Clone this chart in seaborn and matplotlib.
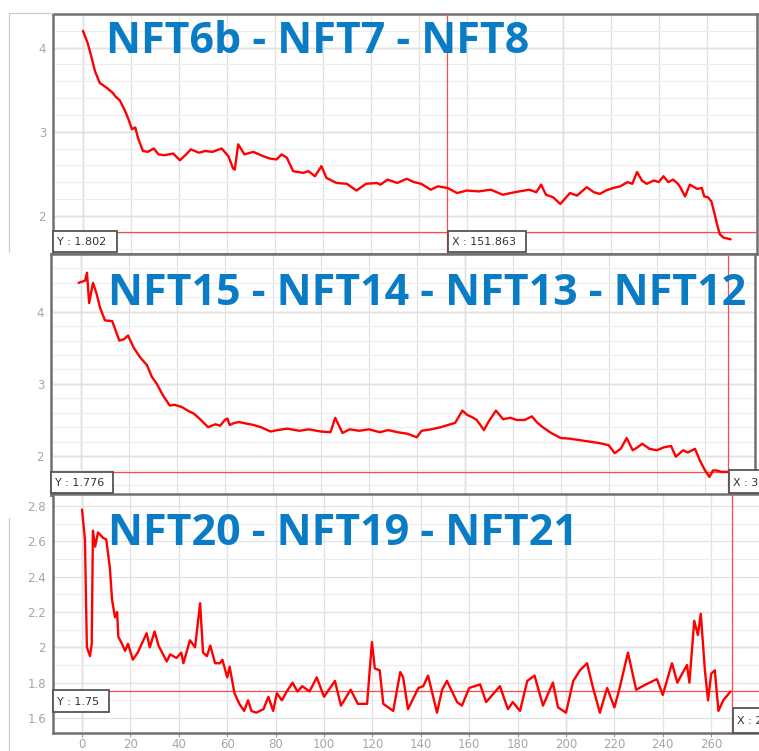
import numpy as np
import pandas as pd
import matplotlib.pyplot as plt
import seaborn as sns
from matplotlib.patches import Rectangle
from matplotlib.lines import Line2D

# panel 1 : NFT6b - NFT7 - NFT8
x1 = [0, 2, 3.7, 5, 7, 10, 12.5, 13.5, 15.4, 17.5, 18.8, 20.4, 21.8, 23, 25, 27, 29.5, 31.5, 34, 37.6,
      40.4, 43, 45, 48.3, 51, 54, 57.8, 60.6, 62.6, 63.3, 64.7, 67.3, 71, 75, 78, 80.7, 82.8, 85, 87.6, 91.8,
      94, 96.7, 99.4, 101.5, 105.7, 110, 114, 118, 122.5, 124, 127, 131, 135, 138, 141, 145, 148, 152, 156, 160,
      165, 170, 175, 180, 186, 189, 191, 193, 196, 199, 203, 206, 210, 213, 215.5, 218, 221, 224, 227, 229,
      231, 233, 235, 238, 240, 242, 244, 246, 248, 249, 251, 253, 256, 258, 259, 260.5, 262, 263.5, 264.5, 265.5,
      267, 270]
y1 = [4.20, 4.05, 3.87, 3.72, 3.58, 3.52, 3.46, 3.42, 3.37, 3.25, 3.16, 3.03, 3.05, 2.92, 2.77, 2.76, 2.80, 2.73, 2.72, 2.74,
      2.66, 2.73, 2.79, 2.75, 2.77, 2.76, 2.80, 2.71, 2.56, 2.55, 2.85, 2.73, 2.76, 2.71, 2.68, 2.67, 2.73, 2.69, 2.53, 2.51,
      2.53, 2.47, 2.59, 2.45, 2.39, 2.38, 2.30, 2.38, 2.39, 2.37, 2.43, 2.39, 2.44, 2.40, 2.38, 2.31, 2.35, 2.33, 2.27, 2.30,
      2.29, 2.31, 2.25, 2.28, 2.31, 2.28, 2.37, 2.25, 2.22, 2.14, 2.27, 2.24, 2.34, 2.28, 2.26, 2.30, 2.33, 2.35, 2.40, 2.38,
      2.52, 2.42, 2.38, 2.42, 2.40, 2.47, 2.40, 2.43, 2.38, 2.34, 2.23, 2.37, 2.32, 2.33, 2.23, 2.22, 2.17, 2.00, 1.88, 1.78,
      1.74, 1.72]

# panel 2 : NFT15 - NFT14 - NFT13 - NFT12
x2 = [-1, 1.7, 2.5, 3.4, 5, 6.5, 8, 10, 13, 16, 18, 19.6, 22, 24.6, 27.5, 29.5, 31.6, 34, 37, 39,
      42, 45, 47, 50, 53, 56, 58, 60, 61, 62, 64, 66, 69, 72, 75, 79, 82, 86, 91, 95,
      100, 104, 106, 109, 112, 116, 120, 124.6, 128, 132, 136, 140, 142, 146, 150, 153, 156, 159, 161, 163,
      165, 168, 170, 173, 176, 179, 181.7, 185, 188, 190, 192.5, 196, 200, 204, 208, 212, 216, 220, 222.5, 225,
      227.5, 230, 232, 234, 237, 240, 243, 246, 248, 251, 253, 256, 258, 260, 262, 263.5, 265, 267, 269.6]
y2 = [4.40, 4.43, 4.54, 4.12, 4.40, 4.25, 4.05, 3.88, 3.87, 3.60, 3.62, 3.67, 3.50, 3.37, 3.26, 3.10, 3.00, 2.85, 2.70, 2.71,
      2.68, 2.62, 2.59, 2.50, 2.40, 2.44, 2.42, 2.50, 2.52, 2.43, 2.46, 2.47, 2.45, 2.43, 2.40, 2.34, 2.36, 2.38, 2.35, 2.37,
      2.34, 2.33, 2.53, 2.32, 2.37, 2.35, 2.37, 2.33, 2.36, 2.33, 2.31, 2.26, 2.35, 2.37, 2.40, 2.43, 2.46, 2.63, 2.57, 2.54,
      2.50, 2.36, 2.48, 2.63, 2.51, 2.53, 2.50, 2.50, 2.55, 2.47, 2.40, 2.32, 2.25, 2.24, 2.22, 2.20, 2.18, 2.15, 2.04, 2.10,
      2.25, 2.08, 2.12, 2.17, 2.10, 2.08, 2.12, 2.14, 1.99, 2.08, 2.05, 2.10, 1.94, 1.81, 1.71, 1.80, 1.80, 1.78, 1.78]

# panel 3 : NFT20 - NFT19 - NFT21
x3 = [0, 1.2, 2, 3.3, 4, 4.5, 5.4, 6.6, 8.7, 10, 11.5, 12.4, 13.6, 14.5, 15, 16.5, 17.8, 19, 21, 23,
      26.7, 28, 30, 31.6, 35, 36.4, 39, 41, 41.9, 44.6, 46.7, 48.8, 50, 51.6, 53, 55, 57, 58, 60, 61,
      63, 65, 67, 68.6, 70, 72, 75, 77, 79, 80.5, 82.6, 84.6, 87, 89, 91, 94, 97, 100, 104.5, 107,
      111, 114, 117.8, 119.8, 121, 123, 124.5, 128.6, 131.5, 132.7, 134.7, 139, 141, 143, 146.7, 148.8, 150.8, 155, 157, 160,
      164.5, 167, 172.7, 176, 178, 181, 184, 187, 190.5, 194.6, 196.7, 200, 203, 205.8, 208.7, 211, 214, 217, 220, 222,
      225.6, 229, 233, 237.6, 240, 243.8, 246, 250, 251, 253, 254.5, 255.7, 257.4, 258.7, 260, 261.5, 263, 265, 268]
y3 = [2.78, 2.61, 2.00, 1.95, 2.02, 2.66, 2.57, 2.65, 2.62, 2.61, 2.45, 2.27, 2.17, 2.20, 2.06, 2.02, 1.98, 2.02, 1.93, 1.97,
      2.08, 2.00, 2.09, 2.01, 1.92, 1.96, 1.94, 1.97, 1.91, 2.04, 2.00, 2.25, 1.97, 1.95, 2.01, 1.91, 1.91, 1.93, 1.83, 1.89,
      1.74, 1.68, 1.64, 1.70, 1.64, 1.63, 1.65, 1.72, 1.64, 1.74, 1.70, 1.75, 1.80, 1.75, 1.78, 1.75, 1.83, 1.72, 1.81, 1.67,
      1.76, 1.68, 1.68, 2.03, 1.88, 1.87, 1.68, 1.64, 1.86, 1.83, 1.65, 1.77, 1.78, 1.84, 1.63, 1.76, 1.81, 1.69, 1.67, 1.77,
      1.79, 1.69, 1.78, 1.65, 1.69, 1.64, 1.81, 1.84, 1.67, 1.80, 1.66, 1.63, 1.81, 1.87, 1.91, 1.78, 1.63, 1.77, 1.66, 1.76,
      1.97, 1.76, 1.79, 1.82, 1.73, 1.91, 1.80, 1.90, 1.80, 2.15, 2.07, 2.19, 1.87, 1.70, 1.85, 1.87, 1.64, 1.70, 1.75]

titles = ["NFT6b - NFT7 - NFT8", "NFT15 - NFT14 - NFT13 - NFT12", "NFT20 - NFT19 - NFT21"]
cursor_y = [1.802, 1.776, 1.75]
cursor_x = [151.863, 269.7, 268.6]
y_labels = ["Y : 1.802", "Y : 1.776", "Y : 1.75"]
x_labels = ["X : 151.863", "X : 3", "X : 2"]
x_ticks = list(range(0, 261, 20))

sns.set_theme(style="white")
plt.rcParams['font.family'] = ['DejaVu Sans']

W, H = 759, 751
fig = plt.figure(figsize=(W / 100, H / 100), dpi=100)


def rect(l, t, r, b):
    return [l / W, 1 - b / H, (r - l) / W, (b - t) / H]


def fx(x):
    return x / W


def fy(y):
    return 1 - y / H


def style_axes(ax, yticks, yminor, ylim, xlim, dark_y, dark_x, show_x):
    ax.set_facecolor('white')
    ax.set_xlim(*xlim)
    ax.set_ylim(*ylim)
    ax.set_xticks(x_ticks)
    ax.set_xticks(np.arange(280, 300, 20), minor=True)
    ax.set_yticks(yticks)
    ax.set_yticks(yminor, minor=True)
    ax.set_yticklabels(['{:g}'.format(v) for v in yticks])
    ax.grid(True, which='major', color='#e2e2e2', lw=0.9)
    ax.grid(True, which='minor', axis='y', color='#ededed', lw=0.8)
    for v in dark_y:
        ax.axhline(v, color='#cdcdcd', lw=1.0, zorder=0.5)
    for v in dark_x:
        ax.axvline(v, color='#cdcdcd', lw=1.0, zorder=0.5)
    ax.tick_params(axis='both', which='major', direction='out', length=3, width=0.8,
                   color='#9a9a9a', labelcolor='#a6a6a6', labelsize=8.5, pad=2)
    ax.tick_params(axis='x', which='major', pad=0.5)
    ax.tick_params(axis='both', which='minor', length=0)
    ax.tick_params(axis='x', labelbottom=show_x, bottom=show_x)
    for s in ax.spines.values():
        s.set_color('#707070')
        s.set_linewidth(1.8)
    ax.set_xlabel('')
    ax.set_ylabel('')


def cursor_box(l, t, r, b, txt):
    fig.add_artist(Rectangle((fx(l), fy(b)), (r - l) / W, (b - t) / H, transform=fig.transFigure,
                             fc='white', ec='#555555', lw=1.3, zorder=10))
    fig.text(fx(l + 4), fy((t + b) / 2 + 1), txt, ha='left', va='center', fontsize=8,
             color='#333333', zorder=11)


panels = [
    dict(pos=(53, 14, 757, 254), x=x1, y=y1, yt=[2, 3, 4], ym=np.arange(1.6, 4.41, 0.2),
         ylim=(1.545, 4.395), xlim=(-12.5, 281), dy=[2, 3, 4], dx=[0, 200], show_x=False,
         tx=106, ty=53, ybox=(53, 231, 117, 252), xbox=(448, 231, 526, 252)),
    dict(pos=(51, 254, 755, 495), x=x2, y=y2, yt=[2, 3, 4], ym=np.arange(1.6, 4.81, 0.2),
         ylim=(1.46, 4.79), xlim=(-12.5, 281), dy=[2, 3, 4], dx=[0, 160], show_x=False,
         tx=108, ty=305, ybox=(51, 472, 113, 493), xbox=(729, 470, 762, 493)),
    dict(pos=(53, 494, 762, 733), x=x3, y=y3, yt=[1.6, 1.8, 2.0, 2.2, 2.4, 2.6, 2.8],
         ym=np.arange(1.6, 2.81, 0.1), ylim=(1.515, 2.868), xlim=(-12, 281), dy=[2.0], dx=[0, 200],
         show_x=True, tx=108, ty=545, ybox=(53, 690, 109, 712), xbox=(733, 708, 762, 733)),
]

for i, p in enumerate(panels):
    ax = fig.add_axes(rect(*p['pos']))
    df = pd.DataFrame({'x': p['x'], 'y': p['y']})
    sns.lineplot(data=df, x='x', y='y', ax=ax, color='#ff0000', lw=1.7, estimator=None, zorder=4)
    style_axes(ax, p['yt'], p['ym'], p['ylim'], p['xlim'], p['dy'], p['dx'], p['show_x'])
    ax.axhline(cursor_y[i], color='#ff4a4a', lw=0.9, zorder=3)
    ax.axvline(cursor_x[i], color='#ff4a4a', lw=0.9, zorder=3)
    fig.text(fx(p['tx']), fy(p['ty']), titles[i], ha='left', va='baseline', fontsize=31,
             fontweight='bold', family=['Open Sans', 'DejaVu Sans'], color='#0a7cc6', zorder=9)
    cursor_box(*p['ybox'], y_labels[i])
    cursor_box(*p['xbox'], x_labels[i])

# thin screenshot borders on the left
fig.add_artist(Line2D([fx(9), fx(9)], [fy(13), fy(252)], transform=fig.transFigure, color='#cccccc', lw=0.9))
fig.add_artist(Line2D([fx(9), fx(53)], [fy(13), fy(13)], transform=fig.transFigure, color='#cccccc', lw=0.9))
fig.add_artist(Line2D([fx(9), fx(9)], [fy(518), fy(751)], transform=fig.transFigure, color='#cccccc', lw=0.9))

fig.savefig('out.png', dpi=100, facecolor='white')
